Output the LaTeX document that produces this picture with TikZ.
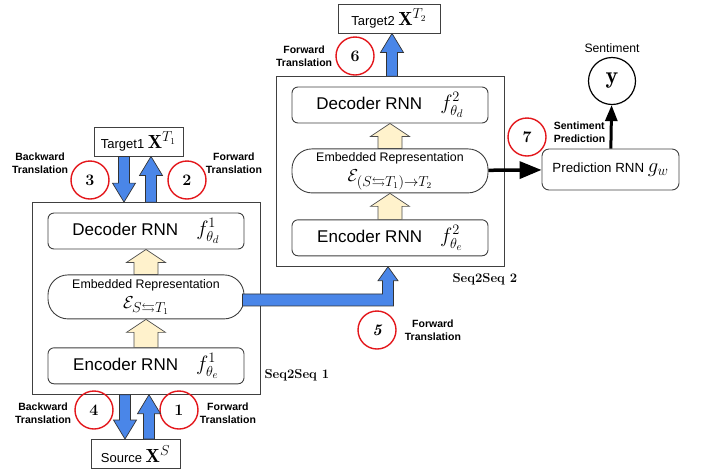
\documentclass[tikz,border=0pt]{standalone}
\usepackage{amsmath}
\usepackage{amssymb}
\usepackage{fontspec}
\setsansfont{Liberation Sans}
\usepackage{tikz}
\usetikzlibrary{arrows.meta,calc,fit,positioning}
\definecolor{arrowblue}{HTML}{4A86E8}
\definecolor{cream}{HTML}{FFF2CC}
\definecolor{numred}{HTML}{E3161B}
\tikzset{
    %Define standard arrow tip
    >={Triangle[length=22pt,width=17pt]},
    %Define style for boxes
    rnnbox/.style={
           rectangle,
           rounded corners=6pt,
           draw=black!75, line width=0.9pt,
           fill=white,
           minimum width=196pt,
           minimum height=36pt,
           font=\sffamily\fontsize{17}{20}\selectfont,
           text centered},
    embbox/.style={
           rectangle,
           rounded corners=20pt,
           draw=black!75, line width=0.9pt,
           fill=white,
           minimum width=196pt,
           minimum height=44pt,
           inner sep=0pt,
           align=center,
           font=\sffamily\fontsize{12.4}{15}\selectfont},
    seqbox/.style={
           rectangle,
           draw=black!75, line width=0.9pt,
           inner xsep=15.5pt,
           inner ysep=10pt},
    databox/.style={
           rectangle,
           draw=black!75, line width=0.9pt,
           minimum width=89pt,
           minimum height=29pt,
           inner sep=1pt,
           font=\sffamily\fontsize{13}{15}\selectfont},
    predbox/.style={
           rectangle,
           rounded corners=7pt,
           draw=black!75, line width=0.9pt,
           minimum width=137pt,
           minimum height=41pt,
           font=\sffamily\fontsize{13.3}{16}\selectfont},
    numcirc/.style={
           circle,
           draw=numred, line width=1.4pt,
           minimum size=38pt,
           inner sep=0pt,
           font=\bfseries\fontsize{16}{16}\selectfont},
    outcirc/.style={
           circle,
           draw=black, line width=1.2pt,
           minimum size=47pt,
           inner sep=0pt},
    translab/.style={
           align=center,
           inner sep=1pt,
           font=\sffamily\bfseries\fontsize{10.5}{13}\selectfont},
    seqlab/.style={
           inner sep=1pt,
           font=\bfseries\fontsize{13}{15}\selectfont},
    % Define block arrow style
    blueshaft/.style={fill=arrowblue, draw=black!80, line width=0.7pt},
    creamshaft/.style={fill=cream, draw=black!70, line width=0.7pt}
}
\newcommand{\mathbig}[1]{{\fontsize{22}{22}\selectfont$#1$}}
\newcommand{\mathmid}[1]{{\fontsize{19}{19}\selectfont$#1$}}
% block arrow: style, from, to, half shaft, half head, head length
\newcommand{\blockarrow}[6]{%
  \coordinate (ba-h) at ($(#3)!#6!(#2)$);
  \filldraw[#1] ($(#2)!#4!90:(#3)$) -- ($(ba-h)!#4!90:(#3)$) -- ($(ba-h)!#5!90:(#3)$)
    -- (#3) -- ($(ba-h)!#5!-90:(#3)$) -- ($(ba-h)!#4!-90:(#3)$) -- ($(#2)!#4!-90:(#3)$) -- cycle;}

\begin{document}
\begin{tikzpicture}[x=1pt,y=-1pt]
\useasboundingbox (0,0) rectangle (704,475);
 %nodes
\node[rnnbox] (dec1) at (146,231) {Decoder RNN\hspace{18pt}\mathbig{f^1_{\theta_d}}};
\node[embbox, below=25pt of dec1] (emb1) {Embedded Representation\\[5pt]\mathmid{\mathcal{E}_{S\leftrightarrows T_1}}};
\node[rnnbox, below=28pt of emb1] (enc1) {Encoder RNN\hspace{18pt}\mathbig{f^1_{\theta_e}}};
\node[seqbox, fit=(dec1)(emb1)(enc1)] (box1) {};
\node[seqlab, anchor=west] (seq1) at ([xshift=3pt,yshift=19pt]box1.south east) {Seq2Seq 1};

\node[rnnbox] (dec2) at (390,105) {Decoder RNN\hspace{18pt}\mathbig{f^2_{\theta_d}}};
\node[embbox, below=25pt of dec2] (emb2) {Embedded Representation\\[5pt]\mathmid{\mathcal{E}_{(S\leftrightarrows T_1)\rightarrow T_2}}};
\node[rnnbox, below=26pt of emb2] (enc2) {Encoder RNN\hspace{18pt}\mathbig{f^2_{\theta_e}}};
\node[seqbox, fit=(dec2)(emb2)(enc2)] (box2) {};
\node[seqlab, anchor=west] (seq2) at ([xshift=-53pt,yshift=-13pt]box2.south east) {Seq2Seq 2};

\node[databox] (tgt1) at (138.5,141.5) {Target1 \mathmid{\mathbf{X}^{T_1}}};
\node[databox] (src) at (135.5,454) {Source \mathmid{\mathbf{X}^{S}}};
\node[databox, minimum width=102pt] (tgt2) at (389,18.5) {Target2 \mathmid{\mathbf{X}^{T_2}}};

\node[predbox] (pred) at (610.5,169.5) {Prediction RNN \mathbig{g_w}};
\node[outcirc, label={[font=\sffamily\fontsize{12.2}{14}\selectfont, label distance=1pt]above:Sentiment}] (ycirc) at (612,81) {\fontsize{24}{24}\selectfont$\mathbf{y}$};

 %steps
\node[numcirc] (c1) at (179,410) {1};
\node[numcirc] (c2) at (187,180) {2};
\node[numcirc] (c3) at (90,180) {3};
\node[numcirc] (c4) at (94,410) {4};
\node[numcirc] (c5) at (377,330) {\itshape 5};
\node[numcirc] (c6) at (355,56) {6};
\node[numcirc] (c7) at (527,137) {7};

\node[translab, right=0pt of c1, yshift=-3pt] (l1) {Forward\\Translation};
\node[translab, right=-2pt of c2, yshift=17pt] (l2) {Forward\\Translation};
\node[translab, left=1pt of c3, yshift=17pt] (l3) {Backward\\Translation};
\node[translab, left=2pt of c4, yshift=-3pt] (l4) {Backward\\Translation};
\node[translab, right=7pt of c5] (l5) {Forward\\Translation};
\node[translab, left=2pt of c6] (l6) {Forward\\Translation};
\node[translab, align=left, right=6pt of c7, yshift=5pt] (l7) {Sentiment\\Prediction};

 %arrows
\coordinate (a1e) at ([xshift=3pt]box1.south);
\coordinate (a1s) at (a1e |- src.north);
\coordinate (a4s) at ([xshift=-21pt]box1.south);
\coordinate (a4e) at (a4s |- src.north);
\coordinate (a2s) at ([xshift=5pt]box1.north);
\coordinate (a2e) at (a2s |- tgt1.south);
\coordinate (a3e) at ([xshift=-22pt]box1.north);
\coordinate (a3s) at (a3e |- tgt1.south);
\coordinate (a6s) at ([xshift=2pt]box2.north);
\coordinate (a6e) at (a6s |- tgt2.south);
\coordinate (a5e) at ([xshift=-2pt]box2.south);
\blockarrow{blueshaft}{a1s}{a1e}{5.5pt}{11.5pt}{19pt}
\blockarrow{blueshaft}{a4s}{a4e}{5.5pt}{11.5pt}{19pt}
\blockarrow{blueshaft}{a2s}{a2e}{5.5pt}{11.5pt}{19pt}
\blockarrow{blueshaft}{a3s}{a3e}{5.5pt}{11.5pt}{19pt}
\blockarrow{blueshaft}{a6s}{a6e}{5.5pt}{11.5pt}{19pt}
\blockarrow{creamshaft}{emb1.north}{dec1.south}{12pt}{19.5pt}{13pt}
\blockarrow{creamshaft}{enc1.north}{emb1.south}{12pt}{19.5pt}{13pt}
\blockarrow{creamshaft}{emb2.north}{dec2.south}{12pt}{19.5pt}{13pt}
\blockarrow{creamshaft}{enc2.north}{emb2.south}{12pt}{19.5pt}{13pt}
\filldraw[blueshaft] let \p1=(emb1.east), \p2=(a5e) in
  ({\x1-2pt},{\y1+3pt}) -- ({\x2-5.5pt},{\y1+3pt}) -- ({\x2-5.5pt},{\y2-14pt}) -- ({\x2-10pt},{\y2-14pt})
  -- (\x2,\y2) -- ({\x2+10pt},{\y2-14pt}) -- ({\x2+5.5pt},{\y2-14pt}) -- ({\x2+5.5pt},{\y1-9pt})
  -- ({\x1-2pt},{\y1-9pt}) -- cycle;
\path[->, line width=3.5pt] (emb2) edge (pred);
\path[-{Triangle[length=16pt,width=12pt]}, line width=3pt] (pred) edge (ycirc);
\end{tikzpicture}
\end{document}
